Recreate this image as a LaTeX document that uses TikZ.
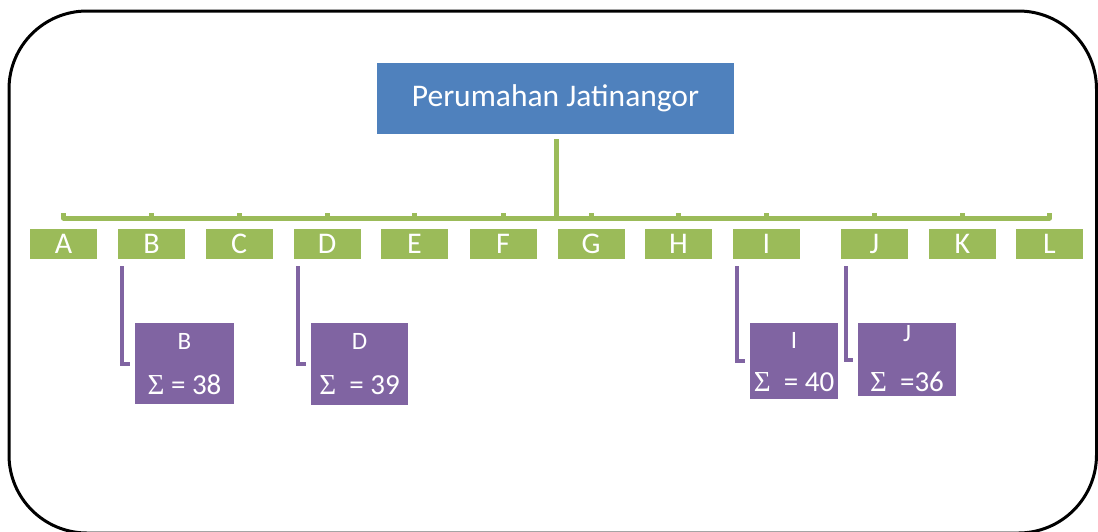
\documentclass[tikz,border=0pt]{standalone}
\usepackage{fontspec}
\setmainfont{Carlito}
\newfontfamily\symf{Liberation Serif}
\definecolor{hblue}{HTML}{4F81BD}
\definecolor{hgreen}{HTML}{9BBB59}
\definecolor{hpurple}{HTML}{8064A2}
\tikzset{
  greenbox/.style={fill=hgreen, text=white, minimum width=67pt, minimum height=30pt, inner sep=0pt, font=\fontsize{30}{32}\selectfont},
  purplebox/.style={fill=hpurple, text=white, inner sep=0pt},
  gline/.style={draw=hgreen, line width=5pt},
  pline/.style={draw=hpurple, line width=4pt},
  toplab/.style={text=white, font=\fontsize{25}{27}\selectfont, inner sep=0pt},
  sumlab/.style={text=white, font=\fontsize{29}{31}\selectfont, inner sep=0pt},
}
\begin{document}
\begin{tikzpicture}[x=1pt,y=-1pt]
\useasboundingbox (0,0) rectangle (1098,531);
\draw[line width=3pt, rounded corners=78pt] (9,11) rectangle (1096.5,533);
% root
\node[fill=hblue, text=white, minimum width=357pt, minimum height=71pt, inner sep=0pt,
      font=\fontsize{31.5}{33}\selectfont] (root) at (555.5,98) {Perumahan Jatinangor};
% green boxes
\foreach \n/\x in {A/63.5,B/151.5,C/239,D/327,E/414.5,F/503,G/591,H/678.5,I/766.5,J/874.5,K/962.5,L/1049.5}{
  \node[greenbox] (\n) at (\x,244) {\n};
  \coordinate (t\n) at (\x,218);
}
\coordinate (stemtop) at (556,139);
\coordinate (stembot) at (556,218);
\draw[gline] (stemtop) -- (stembot);
\draw[gline, line join=round] ([yshift=5pt]tA) -- (tA) -- (tL) -- ([yshift=5pt]tL);
\foreach \n in {B,C,D,E,F,G,H,I,J,K}{
  \draw[gline] (t\n) -- ([yshift=5pt]t\n);
}
% purple boxes
\node[purplebox, minimum width=99pt, minimum height=81pt] (pB) at (184.5,363.5) {};
\node[purplebox, minimum width=97pt, minimum height=82pt] (pD) at (359.5,364) {};
\node[purplebox, minimum width=88pt, minimum height=76pt] (pI) at (794,361) {};
\node[purplebox, minimum width=98pt, minimum height=73pt] (pJ) at (907,359.5) {};
\node[toplab] at (184.5,341) {B};
\node[toplab] at (359.5,341) {D};
\node[toplab] at (794,340) {I};
\node[toplab] at (907,334) {J};
\node[sumlab] at (184.5,385) {{\symf Σ} = 38};
\node[sumlab] at (359.5,385) {{\symf Σ}\ \ = 39};
\node[sumlab] at (794,382) {{\symf Σ}\ \ = 40};
\node[sumlab] at (907,382) {{\symf Σ}\ \ =36};
% purple connectors
\coordinate (cB) at (122,266); \coordinate (eB) at (135,364);
\coordinate (cD) at (298,266); \coordinate (eD) at (311,364);
\coordinate (cI) at (737,266); \coordinate (eI) at (750,361);
\coordinate (cJ) at (846,266); \coordinate (eJ) at (858,360);
\draw[pline] (cB) |- ([xshift=-5pt]eB);
\draw[pline] (cD) |- ([xshift=-5pt]eD);
\draw[pline] (cI) |- ([xshift=-5pt]eI);
\draw[pline] (cJ) |- ([xshift=-5pt]eJ);
\end{tikzpicture}
\end{document}
